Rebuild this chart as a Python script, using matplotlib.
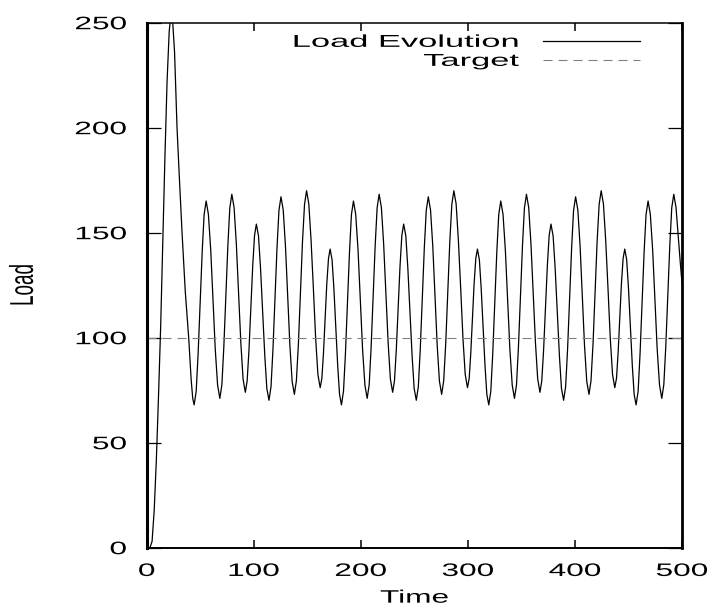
import matplotlib
matplotlib.use('Agg')
import matplotlib.pyplot as plt
import matplotlib.patheffects as pe
from matplotlib.transforms import Affine2D

# Load readings (time, load)
time = [0, 3, 5, 7, 9, 11, 13, 15, 17, 19, 21, 22.7, 24.3, 26, 28.3, 30.5, 33, 36, 39.2, 41.5, 43,
        # cycle 1
        44.3, 46.2, 48.0, 49.9, 51.8, 53.6, 55.5, 57.6, 59.8, 61.9, 64.0, 66.2,
        68.3, 70.2, 72.0, 73.9, 75.8, 77.6, 79.5, 81.6, 83.7, 85.8, 87.9, 90.0,
        92.1, 93.8, 95.5, 97.3, 99.0, 100.7, 102.4, 104.4, 106.3, 108.3, 110.3, 112.2,
        114.2, 116.1, 117.9, 119.8, 121.7, 123.5, 125.4, 127.5, 129.6, 131.7, 133.7, 135.8,
        137.9, 139.8, 141.7, 143.6, 145.5, 147.4, 149.3, 151.4, 153.5, 155.7, 157.8, 159.9,
        162.0, 163.6, 165.1, 166.7, 168.2, 169.8, 171.3, 173.1, 174.8, 176.6, 178.4, 180.1,
        # cycle 2
        181.9, 183.8, 185.6, 187.5, 189.4, 191.2, 193.1, 195.2, 197.4, 199.5, 201.6, 203.8,
        205.9, 207.8, 209.6, 211.5, 213.4, 215.2, 217.1, 219.2, 221.3, 223.4, 225.5, 227.6,
        229.7, 231.4, 233.1, 234.9, 236.6, 238.3, 240.0, 242.0, 243.9, 245.9, 247.9, 249.8,
        251.8, 253.7, 255.5, 257.4, 259.3, 261.1, 263.0, 265.1, 267.2, 269.3, 271.3, 273.4,
        275.5, 277.4, 279.3, 281.2, 283.1, 285.0, 286.9, 289.0, 291.1, 293.3, 295.4, 297.5,
        299.6, 301.2, 302.7, 304.3, 305.8, 307.4, 308.9, 310.7, 312.4, 314.2, 316.0, 317.7,
        # cycle 3
        319.5, 321.4, 323.2, 325.1, 327.0, 328.8, 330.7, 332.8, 335.0, 337.1, 339.2, 341.4,
        343.5, 345.4, 347.2, 349.1, 351.0, 352.8, 354.7, 356.8, 358.9, 361.0, 363.1, 365.2,
        367.3, 369.0, 370.7, 372.5, 374.2, 375.9, 377.6, 379.6, 381.5, 383.5, 385.5, 387.4,
        389.4, 391.3, 393.1, 395.0, 396.9, 398.7, 400.6, 402.7, 404.8, 406.9, 408.9, 411.0,
        413.1, 415.0, 416.9, 418.8, 420.7, 422.6, 424.5, 426.6, 428.7, 430.9, 433.0, 435.1,
        437.2, 438.8, 440.3, 441.9, 443.4, 445.0, 446.5, 448.3, 450.0, 451.8, 453.6, 455.3,
        # cycle 4 (partial)
        457.1, 459.0, 460.8, 462.7, 464.6, 466.4, 468.3, 470.4, 472.6, 474.7, 476.8, 479.0,
        481.1, 483.0, 484.8, 486.7, 488.6, 490.4, 492.3, 494.4, 496.5, 498.5, 500]

load = [0, 0, 3, 18, 42, 72, 105, 146, 186, 222, 246, 254, 250, 236, 200, 176, 150, 122, 100, 80, 71,
        # cycle 1
        68.0, 74.5, 92.3, 116.6, 140.8, 158.6, 165.1, 158.8, 141.6, 118.1, 94.6, 77.4,
        71.1, 77.6, 95.4, 119.7, 144.0, 161.8, 168.3, 162.0, 144.7, 121.1, 97.6, 80.3,
        74.0, 79.4, 94.0, 114.1, 134.1, 148.7, 154.1, 148.5, 133.1, 112.1, 91.2, 75.8,
        70.2, 76.7, 94.4, 118.7, 142.9, 160.6, 167.1, 160.8, 143.6, 120.0, 96.5, 79.3,
        73.0, 79.5, 97.3, 121.5, 145.8, 163.5, 170.0, 163.7, 146.5, 123.1, 99.6, 82.5,
        76.2, 80.6, 92.7, 109.2, 125.7, 137.8, 142.2, 137.2, 123.6, 105.1, 86.5, 73.0,
        # cycle 2
        68.0, 74.5, 92.3, 116.6, 140.8, 158.6, 165.1, 158.8, 141.6, 118.1, 94.6, 77.4,
        71.1, 77.6, 95.4, 119.7, 144.0, 161.8, 168.3, 162.0, 144.7, 121.1, 97.6, 80.3,
        74.0, 79.4, 94.0, 114.1, 134.1, 148.7, 154.1, 148.5, 133.1, 112.1, 91.2, 75.8,
        70.2, 76.7, 94.4, 118.7, 142.9, 160.6, 167.1, 160.8, 143.6, 120.0, 96.5, 79.3,
        73.0, 79.5, 97.3, 121.5, 145.8, 163.5, 170.0, 163.7, 146.5, 123.1, 99.6, 82.5,
        76.2, 80.6, 92.7, 109.2, 125.7, 137.8, 142.2, 137.2, 123.6, 105.1, 86.5, 73.0,
        # cycle 3
        68.0, 74.5, 92.3, 116.6, 140.8, 158.6, 165.1, 158.8, 141.6, 118.1, 94.6, 77.4,
        71.1, 77.6, 95.4, 119.7, 144.0, 161.8, 168.3, 162.0, 144.7, 121.1, 97.6, 80.3,
        74.0, 79.4, 94.0, 114.1, 134.1, 148.7, 154.1, 148.5, 133.1, 112.1, 91.2, 75.8,
        70.2, 76.7, 94.4, 118.7, 142.9, 160.6, 167.1, 160.8, 143.6, 120.0, 96.5, 79.3,
        73.0, 79.5, 97.3, 121.5, 145.8, 163.5, 170.0, 163.7, 146.5, 123.1, 99.6, 82.5,
        76.2, 80.6, 92.7, 109.2, 125.7, 137.8, 142.2, 137.2, 123.6, 105.1, 86.5, 73.0,
        # cycle 4 (partial)
        68.0, 74.5, 92.3, 116.6, 140.8, 158.6, 165.1, 158.8, 141.6, 118.1, 94.6, 77.4,
        71.1, 77.6, 95.4, 119.7, 144.0, 161.8, 168.3, 162.0, 148.0, 135.0, 126.0]

target = 100
xticks = [0, 100, 200, 300, 400, 500]
yticks = [0, 50, 100, 150, 200, 250]


class StretchX(pe.AbstractPathEffect):
    # gnuplot output looks stretched sideways, so widen glyphs around a pivot
    def __init__(self, sx, pivot='center'):
        super().__init__()
        self.sx = sx
        self.pivot = pivot

    def draw_path(self, renderer, gc, tpath, affine, rgbFace=None):
        ext = tpath.get_extents(affine)
        if self.pivot == 'right':
            x0 = ext.x1
        elif self.pivot == 'left':
            x0 = ext.x0
        else:
            x0 = (ext.x0 + ext.x1) / 2
        aff = affine + Affine2D().translate(-x0, 0).scale(self.sx, 1).translate(x0, 0)
        renderer.draw_path(gc, tpath, aff, rgbFace)


SX = 1.75
plt.rcParams['font.family'] = ['Liberation Sans', 'DejaVu Sans']
plt.rcParams['lines.scale_dashes'] = False

fig = plt.figure(figsize=(7.14, 6.09), dpi=100)
ax = fig.add_axes([0.2055, 0.1007, 0.7497, 0.862])

ax.plot(time, load, color='black', lw=0.9, label='Load Evolution')
ax.axhline(target, color='#808080', lw=0.8, ls=(0, (6.5, 4.3)), label='Target')

ax.set_xlim(0, 500)
ax.set_ylim(0, 250)
ax.set_xticks(xticks)
ax.set_yticks(yticks)

ax.tick_params(axis='x', direction='in', length=5.8, width=1.1, top=True, pad=11, labelsize=13)
ax.tick_params(axis='y', direction='in', length=10, width=0.9, right=True, pad=14.5, labelsize=13)

ax.spines['left'].set_linewidth(2.2)
ax.spines['right'].set_linewidth(2.0)
ax.spines['bottom'].set_linewidth(1.4)
ax.spines['top'].set_linewidth(1.1)

for lbl in ax.get_xticklabels():
    lbl.set_path_effects([StretchX(SX, 'center')])
for lbl in ax.get_yticklabels():
    lbl.set_path_effects([StretchX(SX, 'right')])

xl = ax.set_xlabel('Time', fontsize=13, labelpad=7)
yl = ax.set_ylabel('Load', fontsize=13.6, va='center')
ax.yaxis.set_label_coords(-0.2305, 0.5)
xl.set_path_effects([StretchX(SX, 'center')])
yl.set_path_effects([StretchX(SX, 'center')])

leg = ax.legend(loc='upper right', bbox_to_anchor=(0.9216, 0.977), frameon=False,
                markerfirst=False, fontsize=12.4, handlelength=5.65, handletextpad=1.38,
                borderpad=0, borderaxespad=0, labelspacing=0.23)
for t in leg.get_texts():
    t.set_path_effects([StretchX(2.0, 'right')])

plt.savefig('out.png', dpi=100)
